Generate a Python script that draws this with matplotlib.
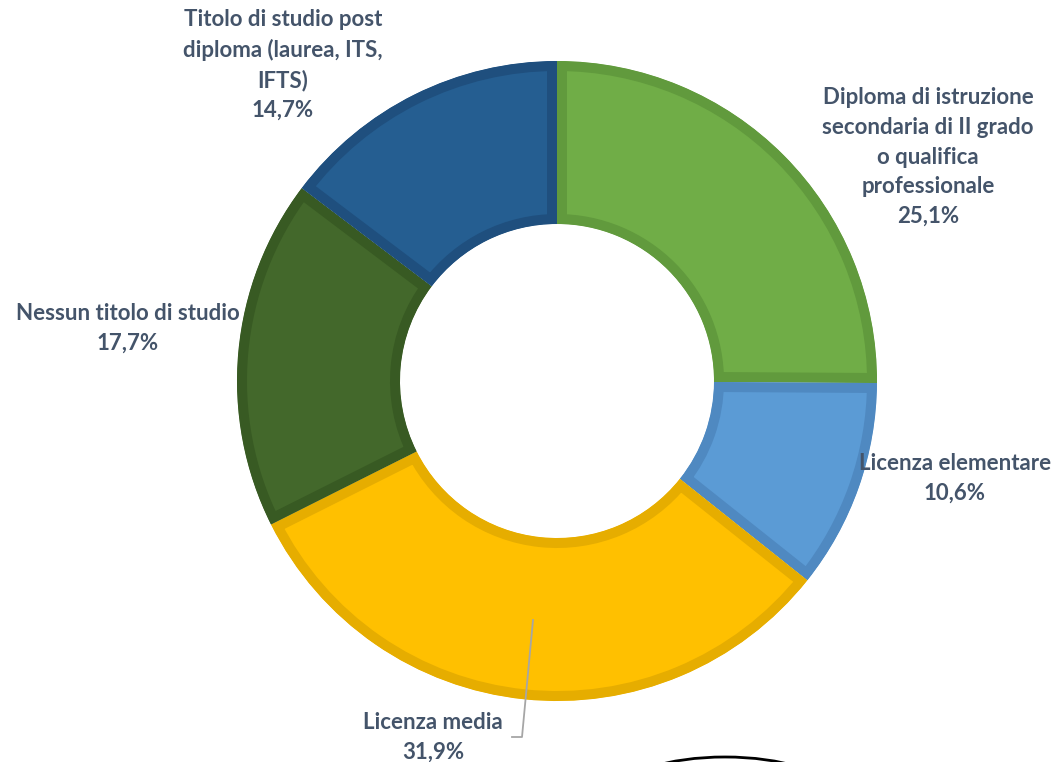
import matplotlib.pyplot as plt
from matplotlib.patches import Ellipse

# dataset
labels = ["Diploma di istruzione\nsecondaria di II grado\no qualifica\nprofessionale",
          "Licenza elementare",
          "Licenza media",
          "Nessun titolo di studio",
          "Titolo di studio post\ndiploma (laurea, ITS,\nIFTS)"]
values = [25.1, 10.6, 31.9, 17.7, 14.7]
colors = ["#70AD47", "#5B9BD5", "#FFC000", "#43682B", "#255E91"]
edges = ["#619A3D", "#4F89C1", "#E6AD00", "#385A23", "#1F4F7E"]

W, H = 1053, 762
fig = plt.figure(figsize=(W / 100, H / 100), dpi=100)
ax = fig.add_axes([0, 0, 1, 1])

cx, cy, R = 557, H - 381, 320
wedges, _ = ax.pie(values, startangle=90, counterclock=False, center=(cx, cy),
                   radius=R, colors=colors, wedgeprops=dict(width=163))
for w, ec in zip(wedges, edges):
    # stroke only on the inside of each wedge (pie turns clipping off)
    w.set_edgecolor(ec)
    w.set_linewidth(14.4)
    w.set_clip_on(True)
    w.set_clip_path(w)

ax.set_xlim(0, W)
ax.set_ylim(0, H)
ax.set_aspect("equal")
ax.axis("off")

# label positions in pixels (x, y centre of text block)
pos = [(928, 157), (955, 478), (433, 737), (128, 328), (283, 65)]
for lab, v, (px, py) in zip(labels, values, pos):
    txt = lab + "\n" + ("%.1f%%" % v).replace(".", ",")
    ax.text(px, H - py, txt, ha="center", va="center", fontsize=16,
            fontweight="bold", color="#44546A", family="Lato", linespacing=1.5)

# leader line for Licenza media
ax.plot([533, 522, 512], [H - 620, H - 737, H - 737], color="#A6A6A6", lw=1.3)

# stray arc at the bottom
ax.add_patch(Ellipse((725, H - 792), 210, 70, fill=False, edgecolor="black", lw=2))

fig.savefig("out.png", dpi=100)
